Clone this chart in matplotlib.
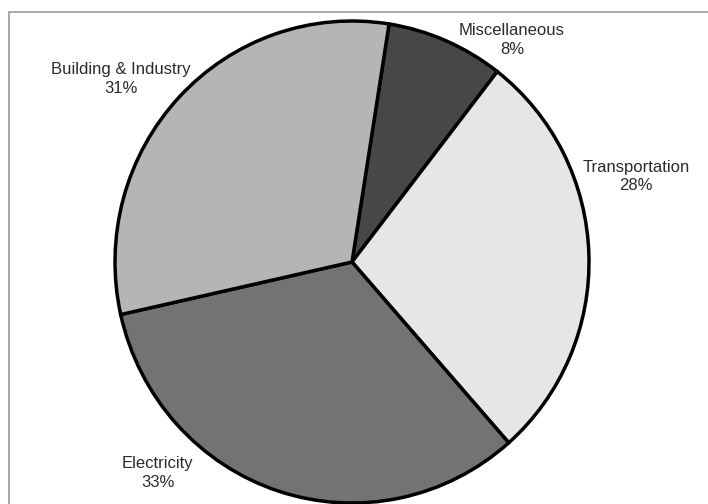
import matplotlib
matplotlib.use('Agg')
import matplotlib.pyplot as plt
from matplotlib.patches import Rectangle

plt.rcParams['font.family'] = ['Liberation Sans', 'DejaVu Sans']

# data, clockwise from the top
categories = ['Miscellaneous', 'Transportation', 'Electricity', 'Building & Industry']
shares = [8, 28, 33, 31]
colors = ['#474747', '#e6e6e6', '#737373', '#b5b5b5']

# label centres in pie units (placed by hand like the original)
label_pos = [(0.675, 0.92), (1.198, 0.355), (-0.819, -0.875), (-0.975, 0.76)]

fig = plt.figure(figsize=(7.08, 5.04), dpi=100)
# pie box in pixels: x 115..589, y 21..503 (from top)
ax = fig.add_axes([115 / 708, 1 - 503 / 504, 474 / 708, 482 / 504])

wedges, texts = ax.pie(shares, colors=colors, startangle=81, counterclock=False,
                       labels=[f'{c}\n{s}%' for c, s in zip(categories, shares)],
                       wedgeprops=dict(edgecolor='black', linewidth=2.5, clip_on=False),
                       textprops=dict(fontsize=12, color='#2a2a2a', ha='center', va='center',
                                      linespacing=1.3))
for t, (x, y) in zip(texts, label_pos):
    t.set_position((x, y))
    t.set_ha('center')
    t.set_va('center')

ax.set_aspect('auto')
ax.set_xlim(-1, 1)
ax.set_ylim(-1, 1)
ax.axis('off')

# grey frame around the chart (cut off at right and bottom)
fig.add_artist(Rectangle((9 / 708, -0.1), 1.2, 492 / 504 + 0.1, transform=fig.transFigure,
                         fill=False, edgecolor='#9a9a9a', linewidth=1.2, zorder=0))

fig.savefig('out.png', dpi=100)
